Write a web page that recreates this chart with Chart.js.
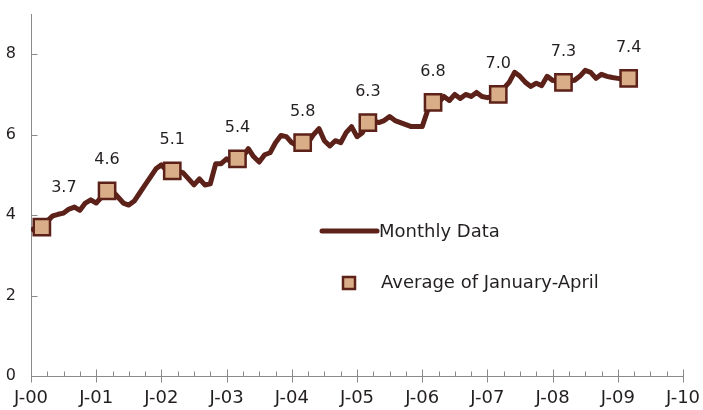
<!DOCTYPE html>
<html>
<head>
<meta charset="utf-8">
<script src="https://cdn.jsdelivr.net/npm/chart.js@4"></script>
<style>
html,body{margin:0;padding:0;background:#fff;}
#wrap{width:703px;height:410px;position:relative;}
</style>
</head>
<body>
<div id="wrap"><canvas id="c" width="703" height="410"></canvas></div>
<script>
// Monthly data, Jan 2000 (month 0) .. Mar 2009 (month 110)
const monthlyValues = [
  3.62,3.70,3.72,3.85,3.98,4.02,4.05,4.15,4.20,4.12,4.30,4.38,   // 2000
  4.30,4.45,4.58,4.60,4.45,4.30,4.25,4.35,4.55,4.75,4.95,5.15,   // 2001
  5.25,5.10,5.12,5.10,5.05,4.90,4.75,4.90,4.75,4.78,5.28,5.28,   // 2002
  5.40,5.30,5.38,5.45,5.65,5.45,5.32,5.50,5.55,5.80,5.98,5.95,   // 2003
  5.80,5.72,5.76,5.80,6.00,6.15,5.85,5.72,5.85,5.80,6.05,6.20,   // 2004
  5.95,6.05,6.30,6.35,6.30,6.35,6.45,6.35,6.30,6.25,6.20,6.20,   // 2005
  6.20,6.60,6.78,6.80,6.95,6.85,7.00,6.90,7.00,6.95,7.05,6.95,   // 2006
  6.92,6.95,7.00,7.15,7.30,7.55,7.45,7.30,7.20,7.28,7.22,7.45,   // 2007
  7.35,7.32,7.30,7.33,7.35,7.45,7.60,7.55,7.40,7.50,7.45,7.42,   // 2008
  7.40,7.38,7.38                                                 // 2009
];
// Average of January-April, plotted at March of each year
const averageMonths = [2,14,26,38,50,62,74,86,98,110];
const averageValues = [3.7,4.6,5.1,5.4,5.8,6.3,6.8,7.0,7.3,7.4];
const xTickLabels = ['J-00','J-01','J-02','J-03','J-04','J-05','J-06','J-07','J-08','J-09','J-10'];
const yTickValues = [0,2,4,6,8];

const LINE = '#5c2118';
const FILL = '#d9ad87';
const TEXT = '#231f20';
const AXIS = '#8a8a8a';
const FONT = "'DejaVu Sans', sans-serif";

const monthlyPoints = monthlyValues.map((v,i)=>({x:i,y:v}));
const averagePoints = averageValues.map((v,i)=>({x:averageMonths[i],y:v}));

const customTicks = {
  id:'customTicks',
  afterDatasetsDraw(chart){
    const ctx = chart.ctx;
    const xs = chart.scales.x, ys = chart.scales.y;
    const y0 = Math.round(ys.getPixelForValue(0))+0.5;
    ctx.save();
    ctx.strokeStyle = AXIS;
    ctx.lineWidth = 1;
    for(let m=0;m<=120;m+=3){
      const px = Math.round(xs.getPixelForValue(m))+0.5;
      ctx.beginPath();
      if(m%12===0){ ctx.moveTo(px,y0-7); ctx.lineTo(px,y0+6); }
      else { ctx.moveTo(px,y0-5); ctx.lineTo(px,y0); }
      ctx.stroke();
    }
    const x0 = Math.round(xs.getPixelForValue(0))+0.5;
    yTickValues.forEach(v=>{
      const py = Math.round(ys.getPixelForValue(v))+0.5;
      ctx.beginPath(); ctx.moveTo(x0,py); ctx.lineTo(x0+6,py); ctx.stroke();
    });
    ctx.restore();
  },
  afterDraw(chart){
    const ctx = chart.ctx;
    const xs = chart.scales.x, ys = chart.scales.y;
    ctx.save();
    ctx.fillStyle = TEXT;
    ctx.font = "16px " + FONT;
    ctx.textAlign = 'center';
    ctx.textBaseline = 'middle';
    averagePoints.forEach((p,i)=>{
      const px = xs.getPixelForValue(p.x), py = ys.getPixelForValue(p.y);
      let dx = 0, dy = -31;
      if(i===0){ dx = 22; dy = -39; }
      ctx.fillText(p.y.toFixed(1), px+dx, py+dy);
    });
    // legend
    const lx = 322, ly1 = 231, ly2 = 283;
    ctx.strokeStyle = LINE; ctx.lineWidth = 5; ctx.lineCap = 'round';
    ctx.beginPath(); ctx.moveTo(lx, ly1); ctx.lineTo(lx+55, ly1); ctx.stroke();
    ctx.fillStyle = FILL; ctx.strokeStyle = LINE; ctx.lineWidth = 2.5; ctx.lineCap='butt';
    ctx.fillRect(343, ly2-6, 12, 12); ctx.strokeRect(343, ly2-6, 12, 12);
    ctx.fillStyle = TEXT; ctx.textAlign='left';
    ctx.font = "18px " + FONT;
    ctx.fillText('Monthly Data', 379, ly1+1);
    ctx.fillText('Average of January-April', 381, ly2);
    ctx.restore();
  }
};

new Chart(document.getElementById('c'), {
  type:'line',
  data:{
    datasets:[
      { label:'Monthly Data', data: monthlyPoints, borderColor: LINE, borderWidth:5,
        pointRadius:0, tension:0, fill:false, borderJoinStyle:'round', order:2 },
      { label:'Average of January-April', data: averagePoints, showLine:false,
        pointStyle:'rect', pointRadius:11.5, pointBackgroundColor: FILL,
        pointBorderColor: LINE, pointBorderWidth:2.5, order:1 }
    ]
  },
  options:{
    responsive:false, animation:false,
    layout:{padding:{top:10,right:20,left:0,bottom:0}},
    plugins:{legend:{display:false}, tooltip:{enabled:false}},
    scales:{
      x:{ type:'linear', min:0, max:120,
          grid:{display:false, drawTicks:false},
          border:{display:true, color:AXIS, width:1},
          ticks:{ stepSize:12, padding:12, color:TEXT, font:{family:FONT,size:18},
                  maxRotation:0, autoSkip:false,
                  callback:(v)=> xTickLabels[v/12] },
          afterFit(s){ s.height = 34; s.paddingLeft = 0; s.paddingRight = 0; } },
      y:{ min:0, max:9,
          grid:{display:false, drawTicks:false},
          border:{display:true, color:AXIS, width:1},
          ticks:{ stepSize:2, includeBounds:false, padding:15, color:TEXT,
                  font:{family:FONT,size:16} },
          afterFit(s){ s.width = 31; s.paddingTop = 0; s.paddingBottom = 0; } }
    }
  },
  plugins:[customTicks]
});
</script>
</body>
</html>
